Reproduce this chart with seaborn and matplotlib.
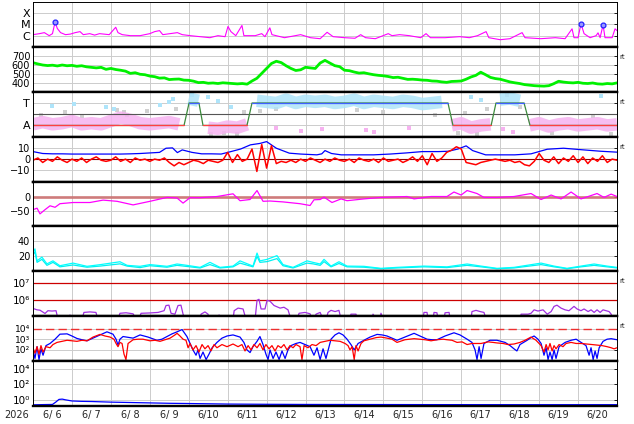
import numpy as np
import matplotlib
matplotlib.use("Agg")
import matplotlib.pyplot as plt
from matplotlib.ticker import NullLocator
import seaborn as sns

# time is in hours from 2026-06-06 00:00 (15 days shown)
day_labels = ["6/ 6", "6/ 7", "6/ 8", "6/ 9", "6/10", "6/11", "6/12", "6/13",
              "6/14", "6/15", "6/16", "6/17", "6/18", "6/19", "6/20"]

# --- X-ray flux (log10 W/m2)
xray_h = [0, 4, 7, 10, 12, 13.6, 15, 17, 20, 23, 26, 29, 31, 35, 38, 41, 47, 51, 52.4, 55,
          60, 66, 72, 75, 78, 80, 84.5, 89, 92, 97, 103, 109, 114, 118.4, 120.2, 122, 125, 128.8, 130, 137,
          141, 143, 146, 147.3, 155, 165, 171, 177, 181.3, 185, 192, 198.5, 202, 205, 211, 219, 221.3, 226, 232, 239,
          242.3, 245, 254, 263, 269, 274, 279.3, 281, 288, 294, 301.5, 303.3, 313, 322, 328, 332.3, 333.5, 336, 337.8, 339.7,
          343.4, 347.1, 348.3, 349.6, 351.4, 352.6, 357, 358.8, 360]
xray_log = [-5.91, -5.82, -5.73, -6.0, -5.82, -4.79, -5.36, -5.73, -5.91, -5.86, -5.73, -5.64, -5.91, -5.82, -5.95, -5.82, -5.91, -5.25, -5.73, -5.91,
            -6.0, -6.0, -5.82, -5.64, -5.55, -5.91, -5.82, -5.73, -5.91, -6.0, -6.09, -6.18, -6.0, -6.09, -5.18, -5.64, -6.0, -5.09, -6.0, -6.0,
            -5.82, -6.09, -5.3, -5.91, -6.18, -5.91, -6.18, -6.27, -5.7, -6.09, -6.18, -6.23, -5.91, -6.18, -6.27, -5.82, -6.0, -5.91, -6.0, -6.18,
            -5.82, -6.18, -6.18, -6.09, -6.18, -6.0, -5.64, -6.18, -6.36, -6.27, -5.73, -6.18, -6.27, -6.18, -6.27, -5.39, -6.18, -6.18, -4.94, -5.82,
            -6.18, -6.0, -5.75, -6.18, -5.03, -6.18, -6.18, -5.39, -5.55]
flare_h = [13.6, 337.8, 351.4]
flare_log = [-4.79, -4.94, -5.03]

# --- solar wind speed (km/s), every 3 h
wind_h = list(range(0, 361, 3))
wind_v = [624, 610, 598, 592, 596, 588, 598, 590,
          594, 584, 590, 578, 572, 566, 572, 550,
          560, 548, 540, 530, 505, 512, 495, 490,
          475, 468, 452, 455, 436, 440, 442, 430,
          428, 418, 402, 405, 395, 398, 392, 400,
          396, 392, 388, 392, 385, 420, 450, 505,
          560, 615, 640, 625, 590, 560, 537, 545,
          573, 566, 560, 620, 650, 620, 591, 580,
          540, 535, 520, 508, 512, 500, 490, 483,
          478, 470, 458, 462, 450, 438, 440, 436,
          430, 428, 420, 418, 410, 405, 415, 417,
          420, 440, 465, 483, 518, 490, 460, 447,
          440, 425, 410, 400, 392, 380, 374, 368,
          365, 363, 368, 390, 417, 408, 402, 399,
          405, 395, 392, 398, 388, 385, 392, 388,
          399]

# --- IMF sector (T = +1, A = -1)
sector_h = [0, 93.1, 96.2, 102.3, 104.8, 131.9, 135, 255.8, 258.9, 282.4, 285.4, 302.7, 306.4, 360]
sector_v = [-1, -1, 1, 1, -1, -1, 1, 1, -1, -1, 1, 1, -1, -1]
phi_h = list(range(0, 361, 6))
phi_v = [-0.9, -0.7, -0.9, -0.8, -0.6, -0.9, -0.8, -0.9, -0.6, -0.3, -0.5, -0.8, -0.9, -0.8, -0.7, -0.9,
         1.4, 1.2,
         -1.2, -1.3, -1.1, -1.2, -0.9,
         1.2, 1.1, 1.0, 1.3, 1.0, 1.2, 1.1, 1.2, 1.0, 1.1, 1.3, 1.0, 1.2, 1.1, 1.0, 1.2, 1.1, 0.9, 1.0, 1.1,
         -1.0, -0.8, -1.2, -1.0, -0.9,
         1.3, 1.4, 1.2,
         -1.0, -0.8, -1.1, -0.9, -0.8, -1.0, -0.9, -0.8, -1.0, -0.9]
blue_dots_h = [12, 25, 45, 50, 78, 84, 86, 98, 108, 114, 122, 270, 276, 350]
blue_dots_v = [0.7, 0.9, 0.6, 0.5, 0.8, 1.1, 1.4, 1.7, 1.5, 1.2, 0.6, 1.5, 1.3, 1.6]
pink_dots_h = [150, 165, 178, 205, 210, 232, 290, 296]
pink_dots_v = [-1.2, -1.5, -1.3, -1.4, -1.6, -1.2, -1.3, -1.6]
gray_dots_h = [5, 20, 30, 52, 56, 58, 70, 88, 110, 118, 126, 130, 140, 150, 200, 216, 248, 262, 266, 274, 280, 292, 300, 320, 345, 356]
gray_dots_v = [-0.1, 0.2, -0.2, 0.4, 0.2, -0.1, 0.3, 0.5, -1.8, -1.7, -1.8, 0.2, 0.3, 0.5, 0.4, 0.2, -0.1, -1.7, 0.1, -1.8, 0.5, 1.7, 0.6, -1.7, -0.2, -1.8]

# --- IMF Bt and Bz (nT)
bt_h = [0, 6, 12, 18, 24, 30, 36, 42, 48, 54, 60, 66, 72, 78, 82, 86, 89, 92, 98, 104,
        110, 116, 122, 128, 134, 140, 144, 150, 158, 165, 175, 178, 180, 184, 190, 200, 210, 220, 230, 240,
        250, 256, 262, 267, 271, 279, 290, 297, 307, 317, 327, 337, 350, 360]
bt_v = [6.7, 5, 4.7, 4.7, 4.5, 4.5, 4.5, 4.5, 4.5, 4.5, 4.7, 5, 5.5, 6, 9.7, 10, 5.8, 8.2, 6, 4.7,
        4.7, 4.5, 6.7, 9, 12.7, 14, 15.6, 9.7, 5.3, 4.5, 3.8, 4.7, 7.6, 5, 3.8, 3.8, 3.8, 4.5, 5.5, 6.7,
        6.7, 7, 9, 11.8, 7.6, 3.8, 3.8, 3.8, 4.7, 8.8, 9.7, 8.5, 7, 6.2]
bz_h = list(range(0, 361, 3))
bz_v = [-1, 1, -3, 0, -2, 2, -1, -3,
        0, -2, 1, -3, 0, 2, -1, -2,
        -1, 2, -2, 0, -3, 1, -1, 0,
        -2, 0, -1, 1, -3, -6, -3, -5,
        -3, -1, -2, -4, -1, -2, -3, -1,
        6, -3, 4, -2, 0, 9, -11, 13,
        -8, 12, -4, -2, -3, -1, -3, 0,
        -2, 1, -1, -3, 0, -2, 1, -1,
        -2, 0, -3, 1, -1, -2, 0, -3,
        1, -2, -1, 0, -3, -1, 2, -2,
        3, -5, 5, -2, 1, 6, 8, 11,
        9, -3, -4, -5, -3, -2, -1, 0,
        -1, -2, -1, -3, -2, -5, -6, -2,
        5, -1, -3, 2, -4, 1, -2, 3,
        -3, 2, -4, 1, -2, 3, -3, 0,
        -1]

# --- Dst (nT)
dst_h = [0, 2.5, 4.3, 7.4, 10.5, 13.6, 16.6, 24.7, 35.1, 43.2, 51.8, 61.7, 72.1, 82.6, 88.8, 92.5, 96.8, 103, 113.4, 123.3,
         127.6, 133.8, 138.1, 141.8, 146.1, 154.1, 164.6, 170.8, 173.2, 177, 179.4, 184.3, 189.9, 193.6, 204, 214.5, 230.6, 234.9, 245.4, 255.2,
         259.5, 263.9, 267.6, 273.7, 278, 286, 296.5, 307, 313.2, 319.4, 325.5, 331.7, 337.8, 347.7, 352, 356.4, 360]
dst_v = [-44, -39, -58, -44, -31, -36, -24, -20, -20, -12, -16, -28, -16, -3, -5, -22, -4, -4, 0, 9,
         -14, -10, 20, -16, -15, -18, -24, -30, -11, -10, -2, -20, -8, -14, -8, -3, 0, -8, 0, 0,
         15, 5, 20, 10, -3, -3, 0, 10, -10, 5, -8, 15, -8, 10, -3, 8, 0]

# --- cyan pair
cyan_h = [0, 1.2, 2.5, 5.5, 8.6, 12.3, 16.6, 24.7, 33.3, 41.3, 53.6, 58, 66, 72.1, 82.6, 88.8, 94.9, 103, 109.1, 115.3,
          123.3, 127.6, 135.6, 138.1, 139.9, 144.3, 150.4, 154.1, 160.3, 168.9, 172.6, 177, 179.4, 183.7, 188.6, 193.6, 204, 214.5, 224.4, 241,
          255.2, 267.6, 276.2, 286, 296.5, 313.2, 321.2, 329.2, 337.8, 345.9, 353.9, 360]
cyan_a = [25, 30, 14, 19, 10, 14, 7.5, 11, 6.7, 8.9, 12.8, 8, 6.7, 9, 6.7, 9.8, 8, 5.3, 12, 5.3,
          7, 14, 7, 24.4, 14, 16, 21, 9, 5.3, 14, 12, 9.8, 16, 7, 12.8, 7, 6.7, 4, 5.3, 7,
          6, 9.8, 7, 4, 5.3, 11, 7, 4, 7, 9.8, 7, 5.3]
cyan_b = [22, 26, 12, 16, 8, 12, 6, 8.5, 5.5, 7, 10, 7, 5, 7.5, 5.5, 8, 6.5, 4.5, 9, 4.5,
          6, 11, 6, 20, 12, 13, 17, 7.5, 4.5, 11, 10, 8, 13, 6, 10.5, 6, 5.5, 3.5, 4.5, 6,
          5, 8, 6, 3.5, 4.5, 9, 6, 3.5, 6, 8, 6, 4.5]

# --- purple flux (log10), values under 5.08 fall below the panel
purple_pts = [(0, 5.53), (2.5, 5.45), (4.3, 5.43), (7.4, 5.24), (9.2, 5.4), (11.7, 5.38), (14.2, 5.4), (15.4, 4.9),
              (21.6, 4.9), (22.8, 5.15), (24, 4.9), (30.2, 4.9), (31.4, 5.3), (35.1, 5.33), (38.8, 5.3), (40, 4.9),
              (52.4, 4.9), (53.6, 5.25), (57.3, 5.28), (61.7, 5.22), (63.5, 4.9), (65.3, 4.9), (66.6, 5.25), (72.1, 5.27),
              (77.1, 5.3), (80.8, 5.4), (82, 5.7), (83.8, 5.72), (85.1, 5.25), (87.5, 5.2), (89.4, 5.7), (91.2, 5.72),
              (92.5, 5.2), (93.7, 4.9), (103, 4.9), (103.6, 5.2), (106, 5.33), (107.9, 5.2), (108.5, 4.9), (114, 4.9),
              (114.7, 5.15), (115.3, 4.9), (123.3, 4.9), (124, 5.4), (126.4, 5.55), (129.5, 5.5), (131.3, 4.9), (136.9, 4.9),
              (138.1, 6.0), (139.3, 6.06), (140.6, 5.5), (143, 5.5), (144.3, 6.0), (146.1, 5.95), (148.6, 5.7), (152.3, 5.55),
              (154.7, 5.6), (157.2, 5.45), (159, 4.9), (162.8, 4.9), (164, 5.25), (167.7, 5.3), (170.8, 5.22), (172, 4.9),
              (173.2, 4.9), (174.5, 5.2), (177, 5.3), (178.8, 4.9), (180.6, 4.9), (181.9, 5.3), (183.7, 5.42), (186.2, 5.35),
              (188.6, 5.42), (189.9, 4.9), (195.4, 4.9), (196, 5.2), (199.1, 5.2), (199.7, 4.9), (209, 4.9), (209.6, 5.2),
              (211.5, 4.9), (213.9, 4.9), (214.5, 5.25), (215.8, 4.9), (240.4, 4.9), (241, 5.3), (242.9, 5.3), (243.5, 4.9),
              (246.6, 4.9), (247.2, 5.3), (249, 5.28), (249.7, 4.9), (253.4, 4.9), (254, 5.28), (256.5, 5.3), (257.1, 4.9),
              (270, 4.9), (270.6, 5.35), (273.1, 5.42), (275.6, 5.35), (278, 5.3), (279.3, 4.9), (300.2, 4.9), (300.9, 5.2),
              (305.2, 5.2), (307, 5.25), (308.9, 5.45), (311.3, 5.38), (314.4, 5.45), (317, 5.2), (319.4, 5.35), (321.2, 5.65),
              (323, 5.72), (325.5, 5.55), (328, 5.45), (330.4, 5.4), (333.5, 5.65), (335.4, 5.5), (337.8, 5.4), (339.7, 5.5),
              (342.2, 5.35), (344, 5.45), (345.9, 5.3), (347.7, 5.45), (349.6, 5.3), (351.4, 5.45), (353.2, 5.4), (355.1, 5.35),
              (356.4, 5.2), (357.6, 4.9)]

# --- electron flux pair (log10)
flux_blue_pts = [(0, 2.0), (1.2, 1.2), (2.5, 2.3), (3.7, 1.1), (4.9, 2.1), (6.2, 1.5), (8, 2.4), (10.5, 2.6), (13.6, 3.0),
                 (16.6, 3.47), (21, 3.5), (24, 3.3), (27.1, 3.07), (30.2, 2.95), (33.3, 2.85), (37, 3.1), (41.3, 3.4),
                 (45.6, 3.69), (49.3, 3.47), (51.2, 3.0), (52.4, 2.45), (53.6, 3.0), (55.5, 3.25), (61.7, 3.1), (66, 3.4),
                 (70.9, 3.2), (76.4, 2.9), (79.5, 3.0), (82.6, 3.25), (85.7, 3.5), (88.8, 3.69), (91.9, 3.9), (94.9, 3.25),
                 (96.8, 2.6), (98.6, 2.0), (100.5, 1.5), (101.7, 2.0), (103, 1.2), (104.8, 1.8), (106.7, 1.1), (108.5, 1.6),
                 (110.4, 2.2), (113.4, 2.7), (116.5, 3.1), (119.6, 3.3), (123.3, 3.4), (127.6, 3.2), (130, 2.7), (131.9, 2.0),
                 (133.8, 1.75), (135.6, 2.3), (138.1, 2.8), (139.9, 3.25), (141.8, 2.5), (143.6, 1.6), (144.9, 1.1), (146.1, 2.0),
                 (148, 1.2), (149.8, 1.8), (151.7, 1.1), (153.5, 1.9), (155.4, 1.2), (157.2, 2.0), (159, 2.4), (162.1, 2.6),
                 (164.6, 2.7), (167.7, 2.5), (170.8, 2.3), (173.2, 1.5), (175.1, 2.2), (177, 1.1), (178.8, 2.1), (180.6, 1.2),
                 (183.7, 3.0), (186.2, 3.4), (188.6, 3.6), (191.1, 3.4), (193.6, 3.0), (196, 2.5), (198, 2.0), (200.4, 2.6),
                 (204, 2.9), (207.8, 3.2), (212.1, 3.45), (215.2, 3.4), (218.2, 3.3), (221.3, 3.1), (224.4, 2.9), (229.3, 3.2),
                 (234.9, 3.55), (238.6, 3.3), (242.9, 3.0), (246, 2.95), (249, 2.95), (254, 3.3), (259.5, 3.6), (263.2, 3.4),
                 (267.6, 3.0), (270.6, 2.7), (272.5, 2.0), (273.7, 1.1), (275, 2.3), (276.2, 1.2), (278, 2.6), (281.7, 2.9),
                 (286, 2.9), (291, 2.7), (294.1, 2.4), (296.5, 2.1), (298.3, 1.9), (300.2, 2.5), (304.6, 2.9), (307, 3.15),
                 (308.9, 3.3), (311.3, 3.0), (313.2, 2.6), (315, 1.5), (316.3, 2.2), (317.5, 1.1), (318.7, 1.8), (320, 1.1),
                 (321.2, 2.0), (322.4, 1.2), (324.3, 2.3), (328, 2.7), (331.7, 2.9), (334.8, 3.0), (337.8, 2.7), (340.9, 2.4),
                 (342.8, 1.5), (344, 2.2), (345.3, 1.1), (346.5, 1.9), (347.7, 1.2), (349, 2.2), (351.4, 2.8), (353.9, 3.0),
                 (356.4, 3.05), (358.2, 3.0), (360, 2.95)]
flux_red_pts = [(0, 2.2), (1.2, 1.7), (2.5, 2.3), (3.7, 1.6), (4.9, 2.4), (6.2, 1.8), (8, 2.3), (10.5, 2.2), (12.3, 2.5),
                (14.8, 2.7), (17.9, 2.8), (21, 2.9), (24, 2.85), (27.1, 2.8), (30.2, 2.9), (33.3, 2.85), (37, 3.2), (41.3, 3.45),
                (44.4, 3.3), (47.5, 3.2), (49.9, 3.0), (51.2, 2.6), (52.4, 2.3), (53.6, 2.7), (54.9, 2.6), (56.1, 1.6), (57.3, 1.1),
                (58.6, 2.6), (61.7, 2.95), (64.7, 3.0), (67.8, 3.0), (72.1, 2.85), (75.2, 2.9), (78.3, 2.8), (81.4, 2.95),
                (84.5, 3.1), (87.5, 3.4), (88.8, 3.55), (90.6, 3.3), (92.5, 3.0), (94.3, 2.9), (95.6, 2.2), (96.8, 2.6),
                (98.6, 2.0), (100.5, 2.4), (102.3, 1.8), (104.2, 2.5), (106, 2.1), (107.9, 2.4), (109.7, 1.9), (111.6, 2.5),
                (113.4, 2.2), (116.5, 2.5), (119.6, 2.3), (123.3, 2.55), (126.4, 2.3), (128.8, 2.5), (130.7, 1.9), (132.6, 2.4),
                (134.4, 2.0), (136.2, 2.5), (138.1, 2.2), (139.9, 2.6), (141.8, 2.0), (143.6, 2.5), (145.5, 2.1), (147.3, 2.4),
                (149.2, 1.9), (151, 2.4), (152.9, 2.2), (154.7, 2.5), (156.6, 2.0), (158.4, 2.4), (160.3, 2.2), (162.1, 2.5),
                (164.6, 2.3), (165.8, 1.1), (167.1, 2.4), (169.5, 2.2), (172, 2.5), (174.5, 2.4), (177, 2.7), (180, 2.8),
                (183.1, 2.9), (186.2, 2.85), (189.3, 2.8), (192.4, 2.6), (194.2, 2.4), (195.4, 2.0), (196.7, 2.3), (198, 1.1),
                (199.1, 2.4), (200.4, 1.9), (202.2, 2.6), (204, 2.85), (207.8, 3.0), (211.5, 3.15), (214.5, 3.2), (218.2, 3.1),
                (221.3, 3.0), (224.4, 2.7), (229.3, 2.95), (234.9, 3.05), (238.6, 3.0), (241.7, 2.95), (245.4, 2.85), (249, 2.95),
                (252.8, 3.0), (255.2, 2.95), (258.3, 2.9), (261.4, 2.7), (264.5, 2.75), (267.6, 2.5), (270.6, 2.6), (273.7, 2.6),
                (276.2, 2.6), (280.5, 2.75), (283.6, 2.7), (286, 2.65), (289.8, 2.6), (292.8, 2.5), (296.5, 2.55), (300.2, 2.7),
                (303.3, 2.9), (307, 3.2), (310.1, 2.9), (313.2, 2.4), (315, 1.8), (316.3, 2.5), (317.5, 2.0), (318.7, 2.6),
                (320, 1.9), (321.2, 2.4), (322.4, 2.1), (324.3, 2.5), (326.7, 2.3), (328.6, 2.6), (331.7, 2.7), (334.8, 2.6),
                (337.8, 2.6), (341.5, 2.55), (344.6, 2.5), (347.7, 2.45), (350.8, 2.4), (353.9, 2.3), (356.4, 2.2), (358.2, 2.1),
                (360, 2.2)]

# --- bottom panel (log10)
bottom_pts = [(0, -0.65), (6, -0.62), (12, -0.6), (14, -0.3), (16, 0.05), (18, 0.09), (20, 0.0), (24, -0.15), (30, -0.2),
              (36, -0.22), (48, -0.3), (60, -0.35), (72, -0.4), (84, -0.45), (96, -0.48), (120, -0.55), (144, -0.58),
              (168, -0.6), (240, -0.62), (300, -0.63), (360, -0.63)]


def unzip(pts):
    return [p[0] for p in pts], [p[1] for p in pts]


def line(ax, x, y, color, lw=0.8, log=False):
    y = 10 ** np.asarray(y, dtype=float) if log else y
    sns.lineplot(x=x, y=y, ax=ax, color=color, linewidth=lw, estimator=None,
                 sort=False, legend=False)


sns.set_style("white")
plt.rcParams["font.family"] = ["DejaVu Sans"]
plt.rcParams["font.size"] = 7

fig, axes = plt.subplots(9, 1, sharex=True, figsize=(6.34, 4.24), dpi=100)
fig.subplots_adjust(left=33 / 634, right=617 / 634, top=1 - 2 / 424, bottom=1 - 406 / 424, hspace=0)

# X-ray
ax = axes[0]
line(ax, xray_h, xray_log, "#ff00ff", 0.8, log=True)
ax.plot(flare_h, 10 ** np.array(flare_log), "o", ms=3.5, mfc="#9a9aff", mec="#2020ff", mew=0.9)
ax.set_yscale("log")
ax.set_ylim(1e-7, 1e-3)
ax.set_yticks([1e-6, 1e-5, 1e-4])
ax.set_yticklabels(["C", "M", "X"], fontsize=8)

# wind speed
ax = axes[1]
line(ax, wind_h, wind_v, "#00f000", 2.0)
ax.set_ylim(300, 800)
ax.set_yticks([400, 500, 600, 700])

# sector
ax = axes[2]
phi = np.array(phi_v)
ax.plot(phi_h, np.where(phi < 0, phi, np.nan), color="#f6b2f0", lw=9, alpha=0.85, solid_capstyle="butt")
ax.plot(phi_h, np.where(phi > 0, phi, np.nan), color="#aee4fa", lw=9, alpha=0.85, solid_capstyle="butt")
ax.scatter(gray_dots_h, gray_dots_v, s=5, marker="s", color="#d0d0d0", linewidths=0)
ax.scatter(blue_dots_h, blue_dots_v, s=5, marker="s", color="#aee4fa", linewidths=0)
ax.scatter(pink_dots_h, pink_dots_v, s=5, marker="s", color="#f6b2f0", linewidths=0)
ax.axhline(0, color="#555555", lw=0.8)
sv = np.array(sector_v, dtype=float)
ax.plot(sector_h, sv, color="#3c8a3c", lw=0.9)
ax.plot(sector_h, np.where(sv < 0, sv, np.nan), color="#ff4040", lw=0.9)
ax.plot(sector_h, np.where(sv > 0, sv, np.nan), color="#4060ff", lw=0.9)
ax.set_ylim(-2, 2)
ax.set_yticks([-1, 1])
ax.set_yticklabels(["A", "T"], fontsize=8)

# IMF
ax = axes[3]
ax.axhline(0, color="#8b0000", lw=0.8)
line(ax, bt_h, bt_v, "#0000ff", 0.9)
line(ax, bz_h, bz_v, "#ff0000", 1.1)
ax.set_ylim(-20, 20)
ax.set_yticks([-10, 0, 10])

# Dst
ax = axes[4]
ax.axhline(0, color="#cc6e6e", lw=2, alpha=0.85)
line(ax, dst_h, dst_v, "#ff00ff", 0.9)
ax.set_ylim(-100, 50)
ax.set_yticks([-50, 0])

# cyan
ax = axes[5]
line(ax, cyan_h, cyan_b, "#00f0f0", 0.9)
line(ax, cyan_h, cyan_a, "#00ffff", 0.9)
ax.set_ylim(0, 60)
ax.set_yticks([20, 40])

# purple
ax = axes[6]
ax.axhline(1e6, color="#cc0000", lw=0.9)
ax.axhline(1e7, color="#cc0000", lw=0.9)
ph, pv = unzip(purple_pts)
line(ax, ph, pv, "#a030e0", 0.9, log=True)
ax.set_yscale("log")
ax.set_ylim(10 ** 5.08, 10 ** 7.68)
ax.set_yticks([1e6, 1e7])
ax.set_yticklabels(["10\u2076", "10\u2077"])

# electron flux pair
ax = axes[7]
ax.axhline(1e4, color="#ee3030", lw=1, dashes=(6, 3))
bh, bv = unzip(flux_blue_pts)
rh, rv = unzip(flux_red_pts)
line(ax, bh, bv, "#0000ff", 0.9, log=True)
line(ax, rh, rv, "#ff0000", 0.9, log=True)
ax.set_yscale("log")
ax.set_ylim(10 ** 0.95, 10 ** 5.15)
ax.set_yticks([1e2, 1e3, 1e4])
ax.set_yticklabels(["10\u00b2", "10\u00b3", "10\u2074"])

# bottom
ax = axes[8]
gh, gv = unzip(bottom_pts)
line(ax, gh, gv, "#0000ff", 0.9, log=True)
ax.set_yscale("log")
ax.set_ylim(10 ** -0.8, 1e5)
ax.set_yticks([1, 1e2, 1e4])
ax.set_yticklabels(["10\u2070", "10\u00b2", "10\u2074"])

for i, ax in enumerate(axes):
    ax.set_xlim(0, 360)
    ax.set_xticks(np.arange(0, 361, 24))
    ax.set_xticks(np.arange(12, 360, 24), minor=True)
    ax.yaxis.set_minor_locator(NullLocator())
    ax.grid(True, which="major", color="#cccccc", lw=0.7)
    ax.set_axisbelow(True)
    ax.set_xlabel("")
    ax.set_ylabel("")
    ax.tick_params(axis="x", which="both", length=0)
    ax.tick_params(axis="y", which="major", left=False, right=True, direction="in",
                   length=2, width=0.6, pad=2, labelsize=7, colors="black")
    for s in ["left", "right", "top", "bottom"]:
        ax.spines[s].set_color("black")
    ax.spines["left"].set_linewidth(0.7)
    ax.spines["right"].set_linewidth(0.7)
    ax.spines["top"].set_linewidth(1.7 if i > 0 else 0.7)
    ax.spines["bottom"].set_linewidth(1.7)

axes[0].tick_params(axis="y", labelsize=8)
axes[2].tick_params(axis="y", labelsize=8)
axes[6].tick_params(axis="y", labelsize=7.5)
axes[7].tick_params(axis="y", labelsize=6.6)
axes[8].tick_params(axis="y", labelsize=7.5)
last = axes[-1]
last.tick_params(axis="x", which="major", labelbottom=False)
last.tick_params(axis="x", which="minor", labelbottom=True, pad=3, labelsize=7)
last.set_xticklabels(day_labels, minor=True)
fig.text(17 / 634, 1 - 415 / 424, "2026", ha="center", va="center", fontsize=7)

for k in [1, 2, 3, 6, 7]:
    axes[k].text(1.004, 0.78, "rt", transform=axes[k].transAxes, fontsize=5, ha="left", va="center")

fig.savefig("out.png", dpi=100)
